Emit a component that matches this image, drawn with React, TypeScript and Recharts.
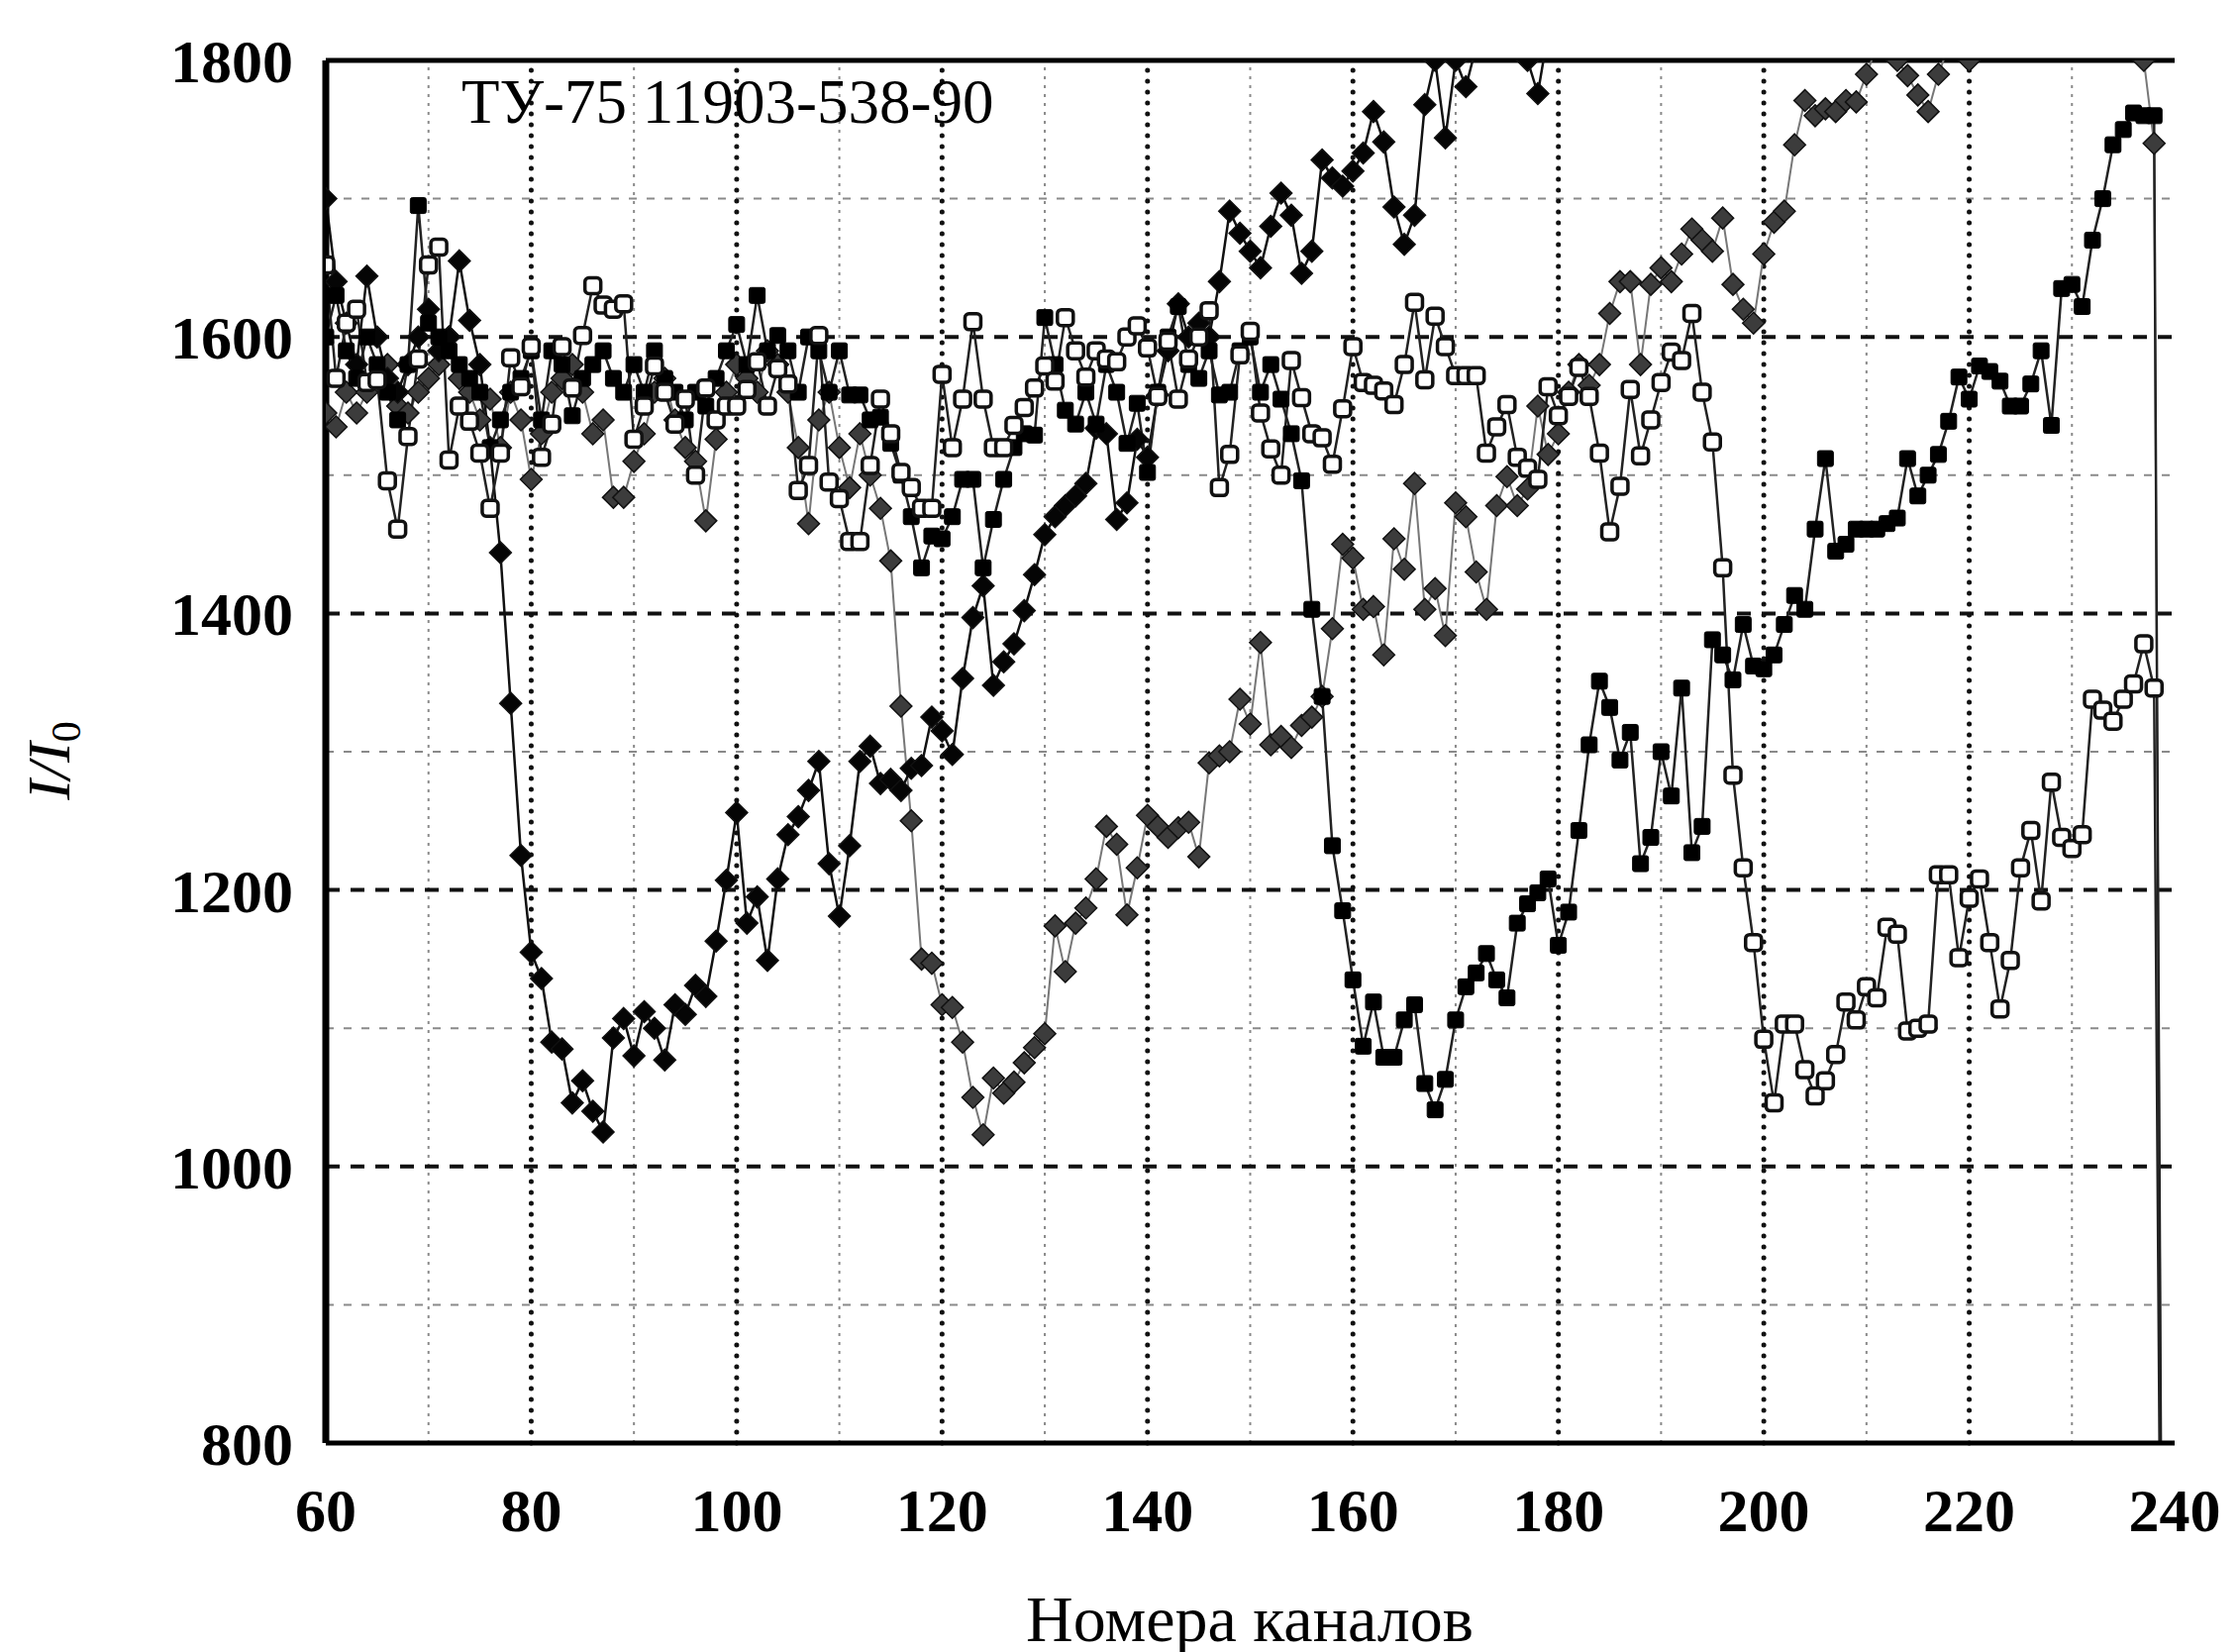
import React from 'react';
import { ComposedChart, Line, XAxis, YAxis, ReferenceLine } from 'recharts';

const START_CHANNEL = 60;

const X_TICKS = [60, 80, 100, 120, 140, 160, 180, 200, 220, 240];
const Y_TICKS = [800, 1000, 1200, 1400, 1600, 1800];
const X_MAJOR_GRID = [80, 100, 120, 140, 160, 180, 200, 220];
const X_MINOR_GRID = [70, 90, 110, 130, 150, 170, 190, 210, 230];
const Y_MAJOR_GRID = [1000, 1200, 1400, 1600];
const Y_MINOR_GRID = [900, 1100, 1300, 1500, 1700];

// open squares, channels 60..239
const SERIES_A = [
  1652, 1570, 1610, 1620, 1567, 1569, 1496, 1461, 1528, 1584,
  1652, 1665, 1511, 1550, 1539, 1516, 1476, 1516, 1585, 1564,
  1593, 1513, 1537, 1593, 1563, 1601, 1637, 1623, 1620, 1624,
  1526, 1550, 1579, 1560, 1537, 1555, 1500, 1563, 1540, 1550,
  1550, 1562, 1582, 1550, 1577, 1566, 1489, 1507, 1601, 1495,
  1483, 1452, 1452, 1507, 1555, 1530, 1502, 1491, 1476, 1476,
  1573, 1520, 1555, 1611, 1555, 1520, 1520, 1536, 1549, 1563,
  1579, 1568, 1614, 1590, 1571, 1590, 1584, 1582, 1600, 1608,
  1592, 1557, 1597, 1555, 1584, 1600, 1619, 1491, 1515, 1587,
  1604, 1545, 1519, 1500, 1583, 1556, 1530, 1527, 1508, 1548,
  1593, 1567, 1565, 1561, 1551, 1580, 1625, 1569, 1615, 1593,
  1572, 1572, 1572, 1516, 1535, 1551, 1513, 1505, 1497, 1564,
  1543, 1557, 1578, 1557, 1516, 1459, 1492, 1562, 1514, 1540,
  1567, 1589, 1583, 1617, 1560, 1524, 1433, 1283, 1216, 1162,
  1092, 1046, 1103, 1103, 1070, 1051, 1062, 1081, 1119, 1106,
  1130, 1122, 1173, 1168, 1098, 1100, 1103, 1211, 1211, 1151,
  1194, 1208, 1162, 1114, 1149, 1216, 1243, 1192, 1278, 1238,
  1230, 1240, 1338, 1330, 1322, 1338, 1349, 1378, 1346, 300,
];

// filled squares, channels 60..239
const SERIES_B = [
  1600, 1630, 1590, 1570, 1600, 1580, 1560, 1540, 1580, 1695,
  1610, 1600, 1590, 1580, 1570, 1560, 1520, 1540, 1560, 1570,
  1590, 1540, 1590, 1580, 1543, 1570, 1580, 1590, 1570, 1560,
  1580, 1560, 1590, 1570, 1560, 1540, 1560, 1550, 1570, 1590,
  1609, 1580, 1630, 1590, 1601, 1590, 1560, 1600, 1590, 1560,
  1590, 1558, 1558, 1540, 1542, 1523, 1500, 1470, 1433, 1456,
  1454, 1470, 1497, 1497, 1433, 1468, 1497, 1520, 1530, 1529,
  1614, 1580, 1547, 1537, 1560, 1537, 1580, 1560, 1523, 1552,
  1502, 1560, 1600, 1622, 1580, 1570, 1590, 1558, 1560, 1590,
  1600, 1560, 1580, 1555, 1530, 1496, 1403, 1340, 1232, 1185,
  1135, 1087, 1119, 1079, 1079, 1106, 1117, 1060, 1041, 1063,
  1106, 1130, 1140, 1154, 1135, 1122, 1176, 1190, 1198, 1208,
  1160, 1184, 1243, 1305, 1351, 1332, 1294, 1314, 1219, 1238,
  1300, 1268, 1346, 1227, 1246, 1381, 1370, 1352, 1392, 1362,
  1360, 1370, 1392, 1413, 1403, 1461, 1512, 1445, 1450, 1461,
  1461, 1461, 1465, 1469, 1512, 1485, 1500, 1515, 1539, 1571,
  1555, 1579, 1575, 1568, 1550, 1550, 1566, 1590, 1536, 1635,
  1638, 1622, 1670, 1700, 1739, 1750, 1762, 1760, 1760, 300,
];

// black diamonds, channels 60..180
const SERIES_C = [
  1700, 1640, 1610, 1580, 1644, 1600, 1570, 1560, 1580, 1600,
  1620, 1590, 1600, 1655, 1612, 1580, 1520, 1444, 1335, 1225,
  1155, 1136, 1090, 1085, 1046, 1062, 1040, 1025, 1093, 1107,
  1080, 1112, 1100, 1077, 1117, 1110, 1131, 1123, 1163, 1207,
  1256, 1176, 1195, 1149, 1208, 1240, 1253, 1272, 1293, 1219,
  1181, 1232, 1293, 1304, 1277, 1280, 1272, 1288, 1290, 1325,
  1315, 1298, 1353, 1397, 1420, 1348, 1365, 1378, 1402, 1428,
  1457, 1470, 1478, 1485, 1494, 1534, 1530, 1468, 1480, 1526,
  1513, 1558, 1590, 1624, 1600, 1610, 1600, 1640, 1691, 1675,
  1662, 1650, 1680, 1704, 1688, 1646, 1662, 1728, 1715, 1709,
  1720, 1733, 1763, 1741, 1694, 1667, 1688, 1768, 1800, 1744,
  1800, 1781, 1810, 1830, 1820, 1840, 1820, 1800, 1776, 1820,
  1850,
];

// grey diamonds, channels 60..239
const SERIES_D = [
  1545, 1535, 1560, 1545, 1560, 1570, 1580, 1550, 1545, 1560,
  1570, 1580, 1600, 1570, 1560, 1540, 1555, 1520, 1560, 1540,
  1497, 1530, 1560, 1570, 1580, 1560, 1530, 1540, 1484, 1484,
  1510, 1530, 1560, 1570, 1540, 1520, 1510, 1467, 1526, 1560,
  1580, 1570, 1560, 1590, 1580, 1560, 1520, 1465, 1540, 1560,
  1520, 1491, 1530, 1500, 1476, 1438, 1333, 1250, 1150, 1147,
  1117, 1115, 1090, 1050, 1023, 1064, 1053, 1061, 1075, 1086,
  1096, 1174, 1141, 1176, 1187, 1208, 1246, 1233, 1182, 1216,
  1254, 1246, 1238, 1245, 1249, 1224, 1292, 1297, 1300, 1338,
  1320, 1379, 1305, 1311, 1303, 1319, 1325, 1340, 1389, 1450,
  1440, 1403, 1405, 1370, 1454, 1432, 1494, 1403, 1418, 1384,
  1480, 1470, 1430, 1403, 1478, 1499, 1478, 1490, 1550, 1515,
  1530, 1560, 1580, 1565, 1580, 1617, 1640, 1640, 1580, 1638,
  1650, 1640, 1660, 1678, 1670, 1662, 1686, 1638, 1620, 1610,
  1660, 1683, 1691, 1739, 1771, 1760, 1765, 1763, 1771, 1770,
  1790, 1810, 1830, 1800, 1789, 1775, 1763, 1790, 1810, 1820,
  1800, 1850, null, null, null, null, null, null, null, null,
  null, null, null, null, null, null, 1850, 1800, 1740, 300,
];

const DATA = SERIES_A.map((_, i) => ({
  x: START_CHANNEL + i,
  a: SERIES_A[i] ?? null,
  b: SERIES_B[i] ?? null,
  c: SERIES_C[i] ?? null,
  d: SERIES_D[i] ?? null,
}));

const Y_MIN = 800;
const Y_MAX = 1800;
const FONT = '"Liberation Serif", "DejaVu Serif", serif';

const inRange = (v: any) => typeof v === 'number' && v >= Y_MIN && v <= Y_MAX;

const makeDot = (kind: string, key: string) => (p: any) => {
  const { cx, cy, index, payload } = p;
  const v = payload ? payload[key] : null;
  if (cx == null || cy == null || !inRange(v)) return <g key={`${kind}-${index}`} />;
  if (kind === 'openSquare') {
    return (
      <rect key={`${kind}-${index}`} x={cx - 8} y={cy - 8} width={16} height={16} rx={4}
        fill="#fff" stroke="#111" strokeWidth={3.5} />
    );
  }
  if (kind === 'square') {
    return (
      <rect key={`${kind}-${index}`} x={cx - 8} y={cy - 8} width={16} height={16} rx={2}
        fill="#000" stroke="#000" strokeWidth={1} />
    );
  }
  const s = 11;
  const fill = kind === 'diamond' ? '#050505' : '#3c3c3c';
  return (
    <polygon key={`${kind}-${index}`}
      points={`${cx},${cy - s} ${cx + s},${cy} ${cx},${cy + s} ${cx - s},${cy}`}
      fill={fill} stroke="#111" strokeWidth={1.5} />
  );
};

export default function App() {
  return (
    <div style={{ position: 'absolute', left: 0, top: 0, width: 2262, height: 1668, background: '#fff' }}>
      <ComposedChart
        width={2262}
        height={1668}
        data={DATA}
        margin={{ top: 61, right: 66, left: 0, bottom: 91 }}
      >
        <XAxis
          dataKey="x"
          type="number"
          domain={[60, 240]}
          ticks={X_TICKS}
          allowDataOverflow
          height={120}
          tickSize={0}
          tickMargin={45}
          axisLine={{ stroke: '#000', strokeWidth: 5 }}
          tickLine={false}
          tick={{ fontFamily: FONT, fontSize: 62, fontWeight: 700, fill: '#000' }}
        />
        <YAxis
          type="number"
          domain={[Y_MIN, Y_MAX]}
          ticks={Y_TICKS}
          allowDataOverflow
          width={329}
          tickSize={0}
          tickMargin={33}
          axisLine={{ stroke: '#000', strokeWidth: 7 }}
          tickLine={false}
          tick={{ fontFamily: FONT, fontSize: 62, fontWeight: 700, fill: '#000' }}
        />
        {X_MINOR_GRID.map((v) => (
          <ReferenceLine key={`xm${v}`} x={v} stroke="#8a8a8a" strokeWidth={2} strokeDasharray="3 6" />
        ))}
        {Y_MINOR_GRID.map((v) => (
          <ReferenceLine key={`ym${v}`} y={v} stroke="#8a8a8a" strokeWidth={2} strokeDasharray="8 10" />
        ))}
        {X_MAJOR_GRID.map((v) => (
          <ReferenceLine key={`xM${v}`} x={v} stroke="#111" strokeWidth={5} strokeDasharray="0 11" strokeLinecap="round" />
        ))}
        {Y_MAJOR_GRID.map((v) => (
          <ReferenceLine key={`yM${v}`} y={v} stroke="#111" strokeWidth={4} strokeDasharray="14 11" />
        ))}
        <ReferenceLine y={Y_MAX} stroke="#000" strokeWidth={5} />
        <Line dataKey="d" type="linear" stroke="#777" strokeWidth={2} isAnimationActive={false}
          dot={makeDot('greyDiamond', 'd')} activeDot={false} connectNulls={false} />
        <Line dataKey="c" type="linear" stroke="#111" strokeWidth={2.5} isAnimationActive={false}
          dot={makeDot('diamond', 'c')} activeDot={false} connectNulls={false} />
        <Line dataKey="b" type="linear" stroke="#222" strokeWidth={2.5} isAnimationActive={false}
          dot={makeDot('square', 'b')} activeDot={false} connectNulls={false} />
        <Line dataKey="a" type="linear" stroke="#222" strokeWidth={2.5} isAnimationActive={false}
          dot={makeDot('openSquare', 'a')} activeDot={false} connectNulls={false} />
      </ComposedChart>
      <div style={{ position: 'absolute', left: 466, top: 68, fontFamily: FONT, fontSize: 63, lineHeight: '70px', color: '#000', whiteSpace: 'nowrap' }}>
        ТУ-75 11903-538-90
      </div>
      <div style={{ position: 'absolute', left: 1262, top: 1600, transform: 'translateX(-50%)', fontFamily: FONT, fontSize: 66, lineHeight: '70px', color: '#000', whiteSpace: 'nowrap' }}>
        Номера каналов
      </div>
      <div style={{ position: 'absolute', left: 58, top: 768, transform: 'translate(-50%, -50%) rotate(-90deg)', fontFamily: FONT, fontSize: 62, fontStyle: 'italic', lineHeight: '70px', color: '#000', whiteSpace: 'nowrap' }}>
        I/I<sub style={{ fontSize: 42, fontStyle: 'normal', verticalAlign: '-0.25em' }}>0</sub>
      </div>
    </div>
  );
}
